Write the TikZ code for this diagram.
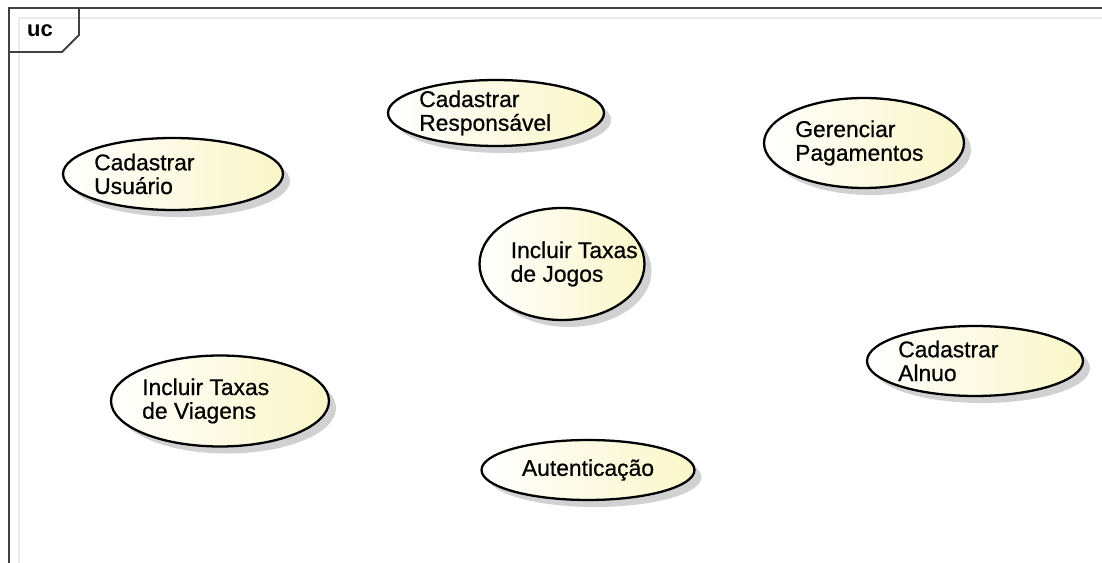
\documentclass[tikz,border=0pt]{standalone}
\usepackage{fontspec}
\setmainfont{Liberation Sans}
\usetikzlibrary{shapes.geometric}
\usetikzlibrary{shadows}
\definecolor{ucyellow}{RGB}{250,246,200}
\definecolor{framegray}{RGB}{64,64,64}
\newcommand{\ucfont}{\addfontfeature{FakeBold=0.6}\fontsize{13}{13.5}\selectfont}
\tikzstyle{diagram}=[x=0.02cm, y=-0.02cm]
\tikzstyle{usecase}=[ellipse, draw=black, line width=1.3pt, inner sep=0pt, left color=white, right color=ucyellow, drop shadow={shadow xshift=4pt, shadow yshift=-4pt, fill=black!30, opacity=0.6}, font=\ucfont]
\tikzstyle{uctext}=[anchor=west, align=left, inner sep=0pt, xshift=0.64cm, font=\ucfont]
\tikzstyle{frame}=[draw=framegray, line width=1.1pt]
\tikzstyle{inner}=[draw=black!8, line width=0.8pt]
\tikzstyle{tab}=[font=\bfseries\fontsize{12.5}{14}\selectfont]

\begin{document}
\begin{tikzpicture}[diagram]
	\useasboundingbox (0,0) rectangle (1102,563);
	\draw[inner] (19,563) -- (19,18) -- (1102,18);
	\draw[frame] (9,563) -- (9,8) -- (1102,8);
	\draw[frame] (9,8) -- (79,8) -- (79,35) -- (62,52) -- (9,52);
	\draw (40,31) node[tab] (uc) {uc};
	%
	\draw (173,174) node[usecase, minimum width=4.4cm, minimum height=1.44cm, label={[uctext]west:{Cadastrar\\Usuário}}] (cadUsuario) {};
	\draw (496,113) node[usecase, minimum width=4.32cm, minimum height=1.32cm, label={[uctext]west:{Cadastrar\\Responsável}}] (cadResp) {};
	\draw (864,143) node[usecase, minimum width=4.0cm, minimum height=1.8cm, label={[uctext]west:{Gerenciar\\Pagamentos}}] (gerPag) {};
	\draw (562,264) node[usecase, minimum width=3.3cm, minimum height=2.24cm, label={[uctext]west:{Incluir Taxas\\de Jogos}}] (taxJogos) {};
	%
	\draw (975,361) node[usecase, minimum width=4.32cm, minimum height=1.4cm, label={[uctext]west:{Cadastrar\\Alnuo}}] (cadAlnuo) {};
	\draw (220,401) node[usecase, minimum width=4.36cm, minimum height=1.82cm, label={[uctext]west:{Incluir Taxas\\de Viagens}}] (taxViagens) {};
	\draw (588,470) node[usecase, minimum width=4.26cm, minimum height=1.2cm] (autent) {Autenticação};
\end{tikzpicture}
\end{document}
